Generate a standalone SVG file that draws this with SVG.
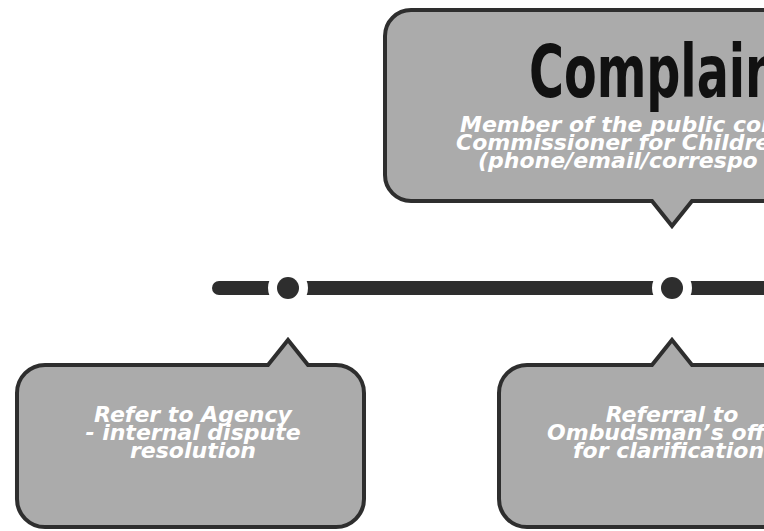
<svg xmlns="http://www.w3.org/2000/svg" width="764" height="531" viewBox="0 0 764 531">
<style>
.box{fill:#ababab;stroke:#2e2e2e;stroke-width:4;stroke-linejoin:miter}
.t{font-family:"DejaVu Sans",sans-serif;font-weight:bold;font-style:oblique;font-size:22px;fill:#ffffff}
.title{font-family:"DejaVu Sans Condensed","Liberation Sans Narrow",sans-serif;font-weight:bold;font-size:56px;fill:#111111}
</style>
<rect width="764" height="531" fill="#ffffff"/>
<g id="connectors">
<path d="M219 288 H800" stroke="#2e2e2e" stroke-width="14" stroke-linecap="round" fill="none"/>
<circle cx="288" cy="288" r="20" fill="#ffffff"/>
<circle cx="672" cy="288" r="20" fill="#ffffff"/>
<circle cx="288" cy="288" r="11" fill="#2e2e2e"/>
<circle cx="672" cy="288" r="11" fill="#2e2e2e"/>
</g>
<g id="complaint">
<path class="box" d="M411 10 H990 V201 H692 L672 226 L652 201 H411 A26 26 0 0 1 385 175 V36 A26 26 0 0 1 411 10 Z"/>
<text class="title" transform="translate(529 97) scale(1 1.3)" x="0" y="0" textLength="250" lengthAdjust="spacingAndGlyphs">Complain</text>
<text class="t" x="460" y="132">Member of the public con</text>
<text class="t" x="456" y="150">Commissioner for Childre</text>
<text class="t" x="478" y="168">(phone/email/correspo</text>
</g>
<g id="agency">
<path class="box" d="M45 365 H268 L288 340 L308 365 H336 A28 28 0 0 1 364 393 V499 A28 28 0 0 1 336 527 H45 A28 28 0 0 1 17 499 V393 A28 28 0 0 1 45 365 Z"/>
<text class="t" x="193" y="422" text-anchor="middle">Refer to Agency</text>
<text class="t" x="193" y="440" text-anchor="middle">- internal dispute</text>
<text class="t" x="193" y="458" text-anchor="middle">resolution</text>
</g>
<g id="ombudsman">
<path class="box" d="M527 365 H652 L672 340 L692 365 H900 V527 H527 A28 28 0 0 1 499 499 V393 A28 28 0 0 1 527 365 Z"/>
<text class="t" x="672" y="422" text-anchor="middle">Referral to</text>
<text class="t" x="547" y="440">Ombudsman’s offi</text>
<text class="t" x="573" y="458">for clarification</text>
</g>
</svg>
